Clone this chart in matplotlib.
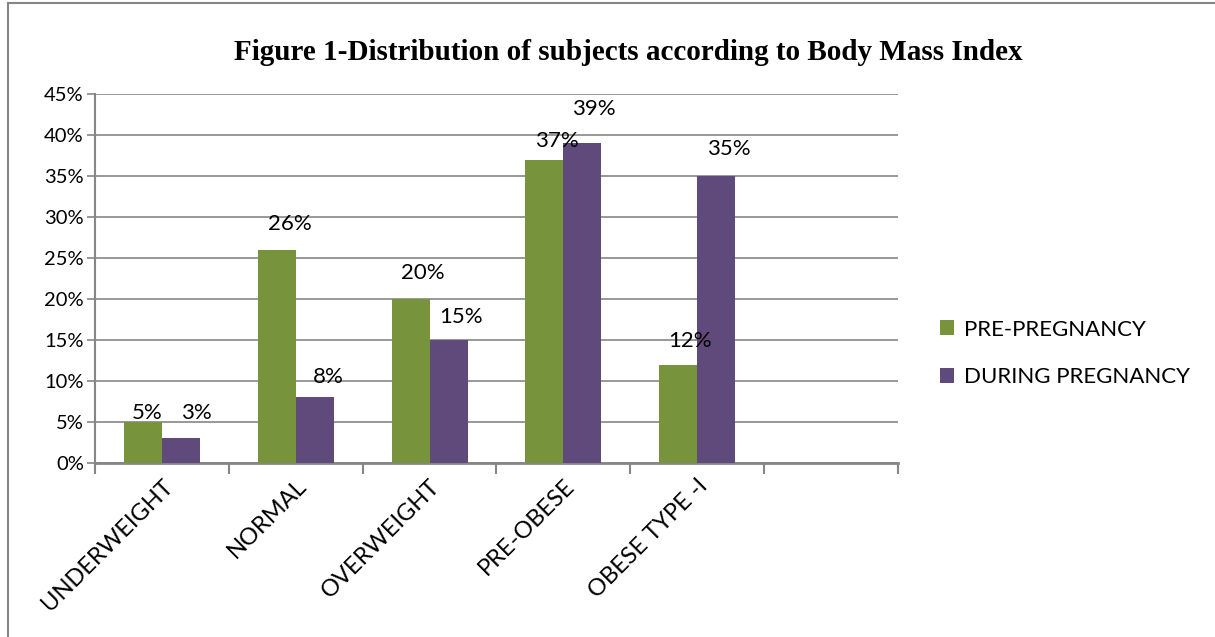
import numpy as np
import matplotlib.pyplot as plt
from matplotlib.lines import Line2D

# data
categories = ['UNDERWEIGHT', 'NORMAL', 'OVERWEIGHT', 'PRE-OBESE', 'OBESE TYPE -I', '']
pre_pregnancy = [5, 26, 20, 37, 12, None]
during_pregnancy = [3, 8, 15, 39, 35, None]
series_names = ['PRE-PREGNANCY', 'DURING PREGNANCY']
yticks = [0, 5, 10, 15, 20, 25, 30, 35, 40, 45]

# label nudges (pixels) so the value labels sit where they do in the original
pre_dx = [4, 13, 12, 12, 12]
pre_dy = [9, 26, 26, 19, 24]
dur_dx = [15, 14, 12, 11, 13]
dur_dy = [25, 20, 23, 34, 27]

green = '#77933C'
purple = '#604A7B'
grey = '#868686'

plt.rcParams['font.family'] = ['Lato', 'DejaVu Sans']

fig = plt.figure(figsize=(12.15, 6.37), dpi=100)
ax = fig.add_axes([95 / 1215, 1 - 463 / 637, (898 - 95) / 1215, (463 - 94) / 637])

x = np.arange(len(categories))
w = 0.284
pre = [v for v in pre_pregnancy if v is not None]
dur = [v for v in during_pregnancy if v is not None]
xp = x[:len(pre)]
ax.bar(xp - w / 2, pre, w, color=green, label=series_names[0], zorder=3)
ax.bar(xp + w / 2, dur, w, color=purple, label=series_names[1], zorder=3)

for i in range(len(pre)):
    ax.annotate(f'{pre[i]}%', (xp[i] - w / 2, pre[i]), xytext=(pre_dx[i], pre_dy[i]),
                textcoords='offset pixels', ha='center', va='center', fontsize=16, zorder=4)
    ax.annotate(f'{dur[i]}%', (xp[i] + w / 2, dur[i]), xytext=(dur_dx[i], dur_dy[i]),
                textcoords='offset pixels', ha='center', va='center', fontsize=16, zorder=4)

ax.set_xlim(-0.5, len(categories) - 0.5)
ax.set_ylim(0, 45)
ax.set_yticks(yticks)
ax.set_yticklabels([f'{t}%' for t in yticks], fontsize=14.5)
ax.yaxis.grid(True, color=grey, linewidth=1.2, zorder=0)
ax.tick_params(axis='y', length=6, width=1.2, color=grey, pad=2)

ax.set_xticks(x)
ax.set_xticklabels(categories, rotation=45, ha='right', rotation_mode='anchor', fontsize=17)
ax.tick_params(axis='x', which='major', length=0, pad=9)
ax.set_xticks(np.arange(-0.5, len(categories)), minor=True)
ax.tick_params(axis='x', which='minor', length=8, width=1.5, color=grey)

for s in ['top', 'right']:
    ax.spines[s].set_visible(False)
ax.spines['left'].set_color(grey)
ax.spines['left'].set_linewidth(1.5)
ax.spines['bottom'].set_color(grey)
ax.spines['bottom'].set_linewidth(2)

ax.legend(loc='center left', bbox_to_anchor=(0.757, 0.445), bbox_transform=fig.transFigure,
          frameon=False, fontsize=16, handlelength=0.65, handleheight=0.65,
          handletextpad=0.45, labelspacing=1.25)

fig.text(628 / 1215, 1 - 53 / 637, 'Figure 1-Distribution of subjects according to Body Mass Index',
         ha='center', va='center', fontsize=21, fontweight='bold', family='Liberation Serif')

# outer frame of the original chart
fig.add_artist(Line2D([8 / 1215, 1], [1 - 3 / 637, 1 - 3 / 637], color=grey, linewidth=1.5))
fig.add_artist(Line2D([8 / 1215, 8 / 1215], [0, 1 - 3 / 637], color=grey, linewidth=1.5))

fig.savefig('out.png', dpi=100)
